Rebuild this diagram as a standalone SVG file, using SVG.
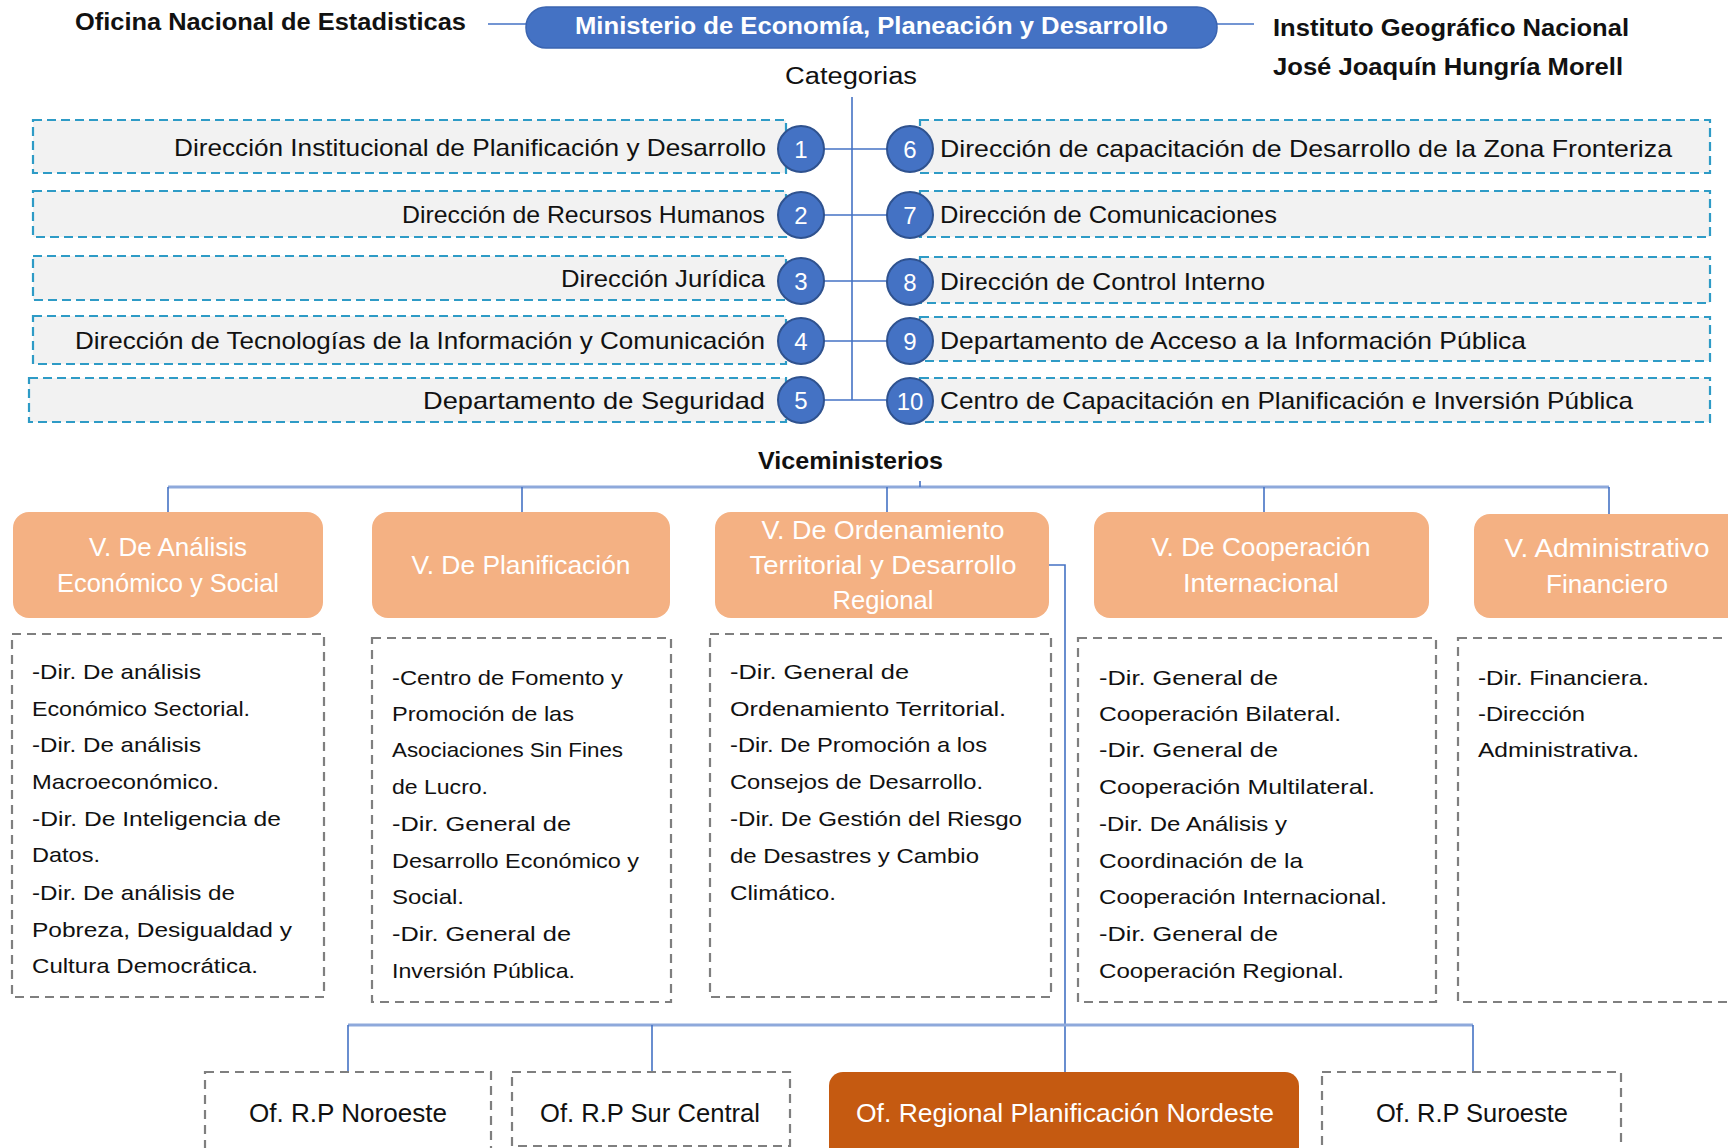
<svg xmlns="http://www.w3.org/2000/svg" width="1728" height="1148" viewBox="0 0 1728 1148">
<style>
.t{font-family:"Liberation Sans",Arial,sans-serif;fill:#111;}
.b{font-weight:bold;}
.cat{font-size:24px;}
.sub{font-size:21px;}
.vm{font-size:25px;fill:#fff;text-anchor:middle;}
.bot{font-size:25px;text-anchor:middle;}
.num{font-size:24px;fill:#fff;text-anchor:middle;font-family:"Liberation Sans",Arial,sans-serif;}
.cbox{fill:#F2F2F2;stroke:#2E9BC6;stroke-width:2.2;stroke-dasharray:9 5;}
.gbox{fill:none;stroke:#7F7F7F;stroke-width:2.2;stroke-dasharray:9 6;}
.circ{fill:#4472C4;stroke:#2F528F;stroke-width:2;}
.vmb{fill:#F4B183;}
.ln{stroke:#4472C4;stroke-width:1.6;fill:none;}
.lnw{stroke:#8EA9DB;stroke-width:3;fill:none;}
</style>

<g id="connectors">
<line class="ln" x1="488" y1="24" x2="527" y2="24"/>
<line class="ln" x1="1217" y1="24" x2="1254" y2="24"/>
<line class="ln" x1="852" y1="97" x2="852" y2="400"/>
<line class="ln" x1="824" y1="149" x2="887" y2="149"/>
<line class="ln" x1="824" y1="215" x2="887" y2="215"/>
<line class="ln" x1="824" y1="281" x2="887" y2="281"/>
<line class="ln" x1="824" y1="341" x2="887" y2="341"/>
<line class="ln" x1="824" y1="400" x2="887" y2="400"/>
<line class="lnw" x1="168" y1="487" x2="1609" y2="487"/>
<line class="ln" x1="920" y1="481" x2="920" y2="487"/>
<line class="ln" x1="168" y1="487" x2="168" y2="512"/>
<line class="ln" x1="522" y1="487" x2="522" y2="512"/>
<line class="ln" x1="887" y1="487" x2="887" y2="512"/>
<line class="ln" x1="1264" y1="487" x2="1264" y2="512"/>
<line class="ln" x1="1609" y1="487" x2="1609" y2="514"/>
<polyline class="ln" points="1049,565 1065,565 1065,1072"/>
<line class="lnw" x1="348" y1="1025" x2="1473" y2="1025"/>
<line class="ln" x1="348" y1="1025" x2="348" y2="1072"/>
<line class="ln" x1="652" y1="1025" x2="652" y2="1072"/>
<line class="ln" x1="1473" y1="1025" x2="1473" y2="1072"/>
</g>

<g id="oficina-estadisticas"><text class="t b" x="75" y="30" font-size="23" textLength="391" lengthAdjust="spacingAndGlyphs">Oficina Nacional de Estadisticas</text></g>
<g id="ministerio">
<rect x="526" y="7" width="691" height="41" rx="20" fill="#4472C4" stroke="#3A64B0" stroke-width="1.5"/>
<text class="t b" x="575" y="34" font-size="24" style="fill:#fff" textLength="593" lengthAdjust="spacingAndGlyphs">Ministerio de Economía, Planeación y Desarrollo</text>
</g>
<g id="instituto">
<text class="t b" x="1273" y="36" font-size="23" textLength="356" lengthAdjust="spacingAndGlyphs">Instituto Geográfico Nacional</text>
<text class="t b" x="1273" y="75" font-size="23" textLength="350" lengthAdjust="spacingAndGlyphs">José Joaquín Hungría Morell</text>
</g>
<g id="categorias"><text class="t" x="785" y="84" font-size="23" textLength="132" lengthAdjust="spacingAndGlyphs">Categorias</text></g>

<g id="cat1"><rect class="cbox" x="33" y="120" width="753" height="53"/><text class="t cat" x="766" y="156" text-anchor="end" textLength="592" lengthAdjust="spacingAndGlyphs">Dirección Institucional de Planificación y Desarrollo</text><circle class="circ" cx="801" cy="149" r="23"/><text class="num" x="801" y="158">1</text></g>
<g id="cat2"><rect class="cbox" x="33" y="191" width="753" height="46"/><text class="t cat" x="765" y="223" text-anchor="end" textLength="363" lengthAdjust="spacingAndGlyphs">Dirección de Recursos Humanos</text><circle class="circ" cx="801" cy="215" r="23"/><text class="num" x="801" y="224">2</text></g>
<g id="cat3"><rect class="cbox" x="33" y="256" width="753" height="44"/><text class="t cat" x="765" y="287" text-anchor="end" textLength="204" lengthAdjust="spacingAndGlyphs">Dirección Jurídica</text><circle class="circ" cx="801" cy="281" r="23"/><text class="num" x="801" y="290">3</text></g>
<g id="cat4"><rect class="cbox" x="33" y="316" width="753" height="48"/><text class="t cat" x="765" y="349" text-anchor="end" textLength="690" lengthAdjust="spacingAndGlyphs">Dirección de Tecnologías de la Información y Comunicación</text><circle class="circ" cx="801" cy="341" r="23"/><text class="num" x="801" y="350">4</text></g>
<g id="cat5"><rect class="cbox" x="29" y="378" width="757" height="44"/><text class="t cat" x="765" y="409" text-anchor="end" textLength="342" lengthAdjust="spacingAndGlyphs">Departamento de Seguridad</text><circle class="circ" cx="801" cy="400" r="23"/><text class="num" x="801" y="409">5</text></g>

<g id="cat6"><rect class="cbox" x="920" y="120" width="790" height="53"/><circle class="circ" cx="910" cy="149" r="23"/><text class="num" x="910" y="158">6</text><text class="t cat" x="940" y="157" textLength="732" lengthAdjust="spacingAndGlyphs">Dirección de capacitación de Desarrollo de la Zona Fronteriza</text></g>
<g id="cat7"><rect class="cbox" x="920" y="191" width="790" height="46"/><circle class="circ" cx="910" cy="215" r="23"/><text class="num" x="910" y="224">7</text><text class="t cat" x="940" y="223" textLength="337" lengthAdjust="spacingAndGlyphs">Dirección de Comunicaciones</text></g>
<g id="cat8"><rect class="cbox" x="920" y="257" width="790" height="46"/><circle class="circ" cx="910" cy="282" r="23"/><text class="num" x="910" y="291">8</text><text class="t cat" x="940" y="290" textLength="325" lengthAdjust="spacingAndGlyphs">Dirección de Control Interno</text></g>
<g id="cat9"><rect class="cbox" x="920" y="317" width="790" height="44"/><circle class="circ" cx="910" cy="341" r="23"/><text class="num" x="910" y="350">9</text><text class="t cat" x="940" y="349" textLength="586" lengthAdjust="spacingAndGlyphs">Departamento de Acceso a la Información Pública</text></g>
<g id="cat10"><rect class="cbox" x="920" y="378" width="790" height="44"/><circle class="circ" cx="910" cy="401" r="23"/><text class="num" x="910" y="410">10</text><text class="t cat" x="940" y="409" textLength="693" lengthAdjust="spacingAndGlyphs">Centro de Capacitación en Planificación e Inversión Pública</text></g>

<g id="viceministerios"><text class="t b" x="758" y="469" font-size="23" textLength="185" lengthAdjust="spacingAndGlyphs">Viceministerios</text></g>

<g id="vm1"><rect class="vmb" x="13" y="512" width="310" height="106" rx="16"/>
<text class="t vm" x="168" y="556" textLength="158" lengthAdjust="spacingAndGlyphs">V. De Análisis</text>
<text class="t vm" x="168" y="592" textLength="222" lengthAdjust="spacingAndGlyphs">Económico y Social</text></g>
<g id="vm2"><rect class="vmb" x="372" y="512" width="298" height="106" rx="16"/>
<text class="t vm" x="521" y="574" textLength="219" lengthAdjust="spacingAndGlyphs">V. De Planificación</text></g>
<g id="vm3"><rect class="vmb" x="715" y="512" width="334" height="106" rx="16"/>
<text class="t vm" x="883" y="539" textLength="243" lengthAdjust="spacingAndGlyphs">V. De Ordenamiento</text>
<text class="t vm" x="883" y="574" textLength="267" lengthAdjust="spacingAndGlyphs">Territorial y Desarrollo</text>
<text class="t vm" x="883" y="609" textLength="101" lengthAdjust="spacingAndGlyphs">Regional</text></g>
<g id="vm4"><rect class="vmb" x="1094" y="512" width="335" height="106" rx="16"/>
<text class="t vm" x="1261" y="556" textLength="219" lengthAdjust="spacingAndGlyphs">V. De Cooperación</text>
<text class="t vm" x="1261" y="592" textLength="156" lengthAdjust="spacingAndGlyphs">Internacional</text></g>
<g id="vm5"><rect class="vmb" x="1474" y="514" width="270" height="104" rx="16"/>
<text class="t vm" x="1607" y="557" textLength="205" lengthAdjust="spacingAndGlyphs">V. Administrativo</text>
<text class="t vm" x="1607" y="593" textLength="122" lengthAdjust="spacingAndGlyphs">Financiero</text></g>

<g id="sub1"><rect class="gbox" x="12" y="634" width="312" height="363"/>
<text class="t sub" x="32" y="679" textLength="169" lengthAdjust="spacingAndGlyphs">-Dir. De análisis</text>
<text class="t sub" x="32" y="716" textLength="218" lengthAdjust="spacingAndGlyphs">Económico Sectorial.</text>
<text class="t sub" x="32" y="752" textLength="169" lengthAdjust="spacingAndGlyphs">-Dir. De análisis</text>
<text class="t sub" x="32" y="789" textLength="187" lengthAdjust="spacingAndGlyphs">Macroeconómico.</text>
<text class="t sub" x="32" y="826" textLength="249" lengthAdjust="spacingAndGlyphs">-Dir. De Inteligencia de</text>
<text class="t sub" x="32" y="862" textLength="68" lengthAdjust="spacingAndGlyphs">Datos.</text>
<text class="t sub" x="32" y="900" textLength="203" lengthAdjust="spacingAndGlyphs">-Dir. De análisis de</text>
<text class="t sub" x="32" y="937" textLength="260" lengthAdjust="spacingAndGlyphs">Pobreza, Desigualdad y</text>
<text class="t sub" x="32" y="973" textLength="226" lengthAdjust="spacingAndGlyphs">Cultura Democrática.</text></g>

<g id="sub2"><rect class="gbox" x="372" y="638" width="299" height="364"/>
<text class="t sub" x="392" y="685" textLength="231" lengthAdjust="spacingAndGlyphs">-Centro de Fomento y</text>
<text class="t sub" x="392" y="721" textLength="182" lengthAdjust="spacingAndGlyphs">Promoción de las</text>
<text class="t sub" x="392" y="757" textLength="231" lengthAdjust="spacingAndGlyphs">Asociaciones Sin Fines</text>
<text class="t sub" x="392" y="794" textLength="96" lengthAdjust="spacingAndGlyphs">de Lucro.</text>
<text class="t sub" x="392" y="831" textLength="179" lengthAdjust="spacingAndGlyphs">-Dir. General de</text>
<text class="t sub" x="392" y="868" textLength="247" lengthAdjust="spacingAndGlyphs">Desarrollo Económico y</text>
<text class="t sub" x="392" y="904" textLength="72" lengthAdjust="spacingAndGlyphs">Social.</text>
<text class="t sub" x="392" y="941" textLength="179" lengthAdjust="spacingAndGlyphs">-Dir. General de</text>
<text class="t sub" x="392" y="978" textLength="183" lengthAdjust="spacingAndGlyphs">Inversión Pública.</text></g>

<g id="sub3"><rect class="gbox" x="710" y="634" width="341" height="363"/>
<text class="t sub" x="730" y="679" textLength="179" lengthAdjust="spacingAndGlyphs">-Dir. General de</text>
<text class="t sub" x="730" y="716" textLength="276" lengthAdjust="spacingAndGlyphs">Ordenamiento Territorial.</text>
<text class="t sub" x="730" y="752" textLength="257" lengthAdjust="spacingAndGlyphs">-Dir. De Promoción a los</text>
<text class="t sub" x="730" y="789" textLength="253" lengthAdjust="spacingAndGlyphs">Consejos de Desarrollo.</text>
<text class="t sub" x="730" y="826" textLength="292" lengthAdjust="spacingAndGlyphs">-Dir. De Gestión del Riesgo</text>
<text class="t sub" x="730" y="863" textLength="249" lengthAdjust="spacingAndGlyphs">de Desastres y Cambio</text>
<text class="t sub" x="730" y="900" textLength="106" lengthAdjust="spacingAndGlyphs">Climático.</text></g>

<g id="sub4"><rect class="gbox" x="1078" y="638" width="358" height="364"/>
<text class="t sub" x="1099" y="685" textLength="179" lengthAdjust="spacingAndGlyphs">-Dir. General de</text>
<text class="t sub" x="1099" y="721" textLength="242" lengthAdjust="spacingAndGlyphs">Cooperación Bilateral.</text>
<text class="t sub" x="1099" y="757" textLength="179" lengthAdjust="spacingAndGlyphs">-Dir. General de</text>
<text class="t sub" x="1099" y="794" textLength="276" lengthAdjust="spacingAndGlyphs">Cooperación Multilateral.</text>
<text class="t sub" x="1099" y="831" textLength="188" lengthAdjust="spacingAndGlyphs">-Dir. De Análisis y</text>
<text class="t sub" x="1099" y="868" textLength="204" lengthAdjust="spacingAndGlyphs">Coordinación de la</text>
<text class="t sub" x="1099" y="904" textLength="288" lengthAdjust="spacingAndGlyphs">Cooperación Internacional.</text>
<text class="t sub" x="1099" y="941" textLength="179" lengthAdjust="spacingAndGlyphs">-Dir. General de</text>
<text class="t sub" x="1099" y="978" textLength="245" lengthAdjust="spacingAndGlyphs">Cooperación Regional.</text></g>

<g id="sub5"><rect class="gbox" x="1458" y="638" width="290" height="364"/>
<text class="t sub" x="1478" y="685" textLength="171" lengthAdjust="spacingAndGlyphs">-Dir. Financiera.</text>
<text class="t sub" x="1478" y="721" textLength="107" lengthAdjust="spacingAndGlyphs">-Dirección</text>
<text class="t sub" x="1478" y="757" textLength="161" lengthAdjust="spacingAndGlyphs">Administrativa.</text></g>

<g id="of-noroeste"><rect class="gbox" x="205" y="1072" width="286" height="90"/>
<text class="t bot" x="348" y="1122" textLength="198" lengthAdjust="spacingAndGlyphs">Of. R.P Noroeste</text></g>
<g id="of-surcentral"><rect class="gbox" x="512" y="1072" width="278" height="74"/>
<text class="t bot" x="650" y="1122" textLength="220" lengthAdjust="spacingAndGlyphs">Of. R.P Sur Central</text></g>
<g id="of-nordeste"><rect x="829" y="1072" width="470" height="100" rx="14" fill="#C55A11"/>
<text class="t bot" x="1065" y="1122" style="fill:#fff" textLength="418" lengthAdjust="spacingAndGlyphs">Of. Regional Planificación Nordeste</text></g>
<g id="of-suroeste"><rect class="gbox" x="1322" y="1072" width="299" height="90"/>
<text class="t bot" x="1472" y="1122" textLength="192" lengthAdjust="spacingAndGlyphs">Of. R.P Suroeste</text></g>
</svg>
